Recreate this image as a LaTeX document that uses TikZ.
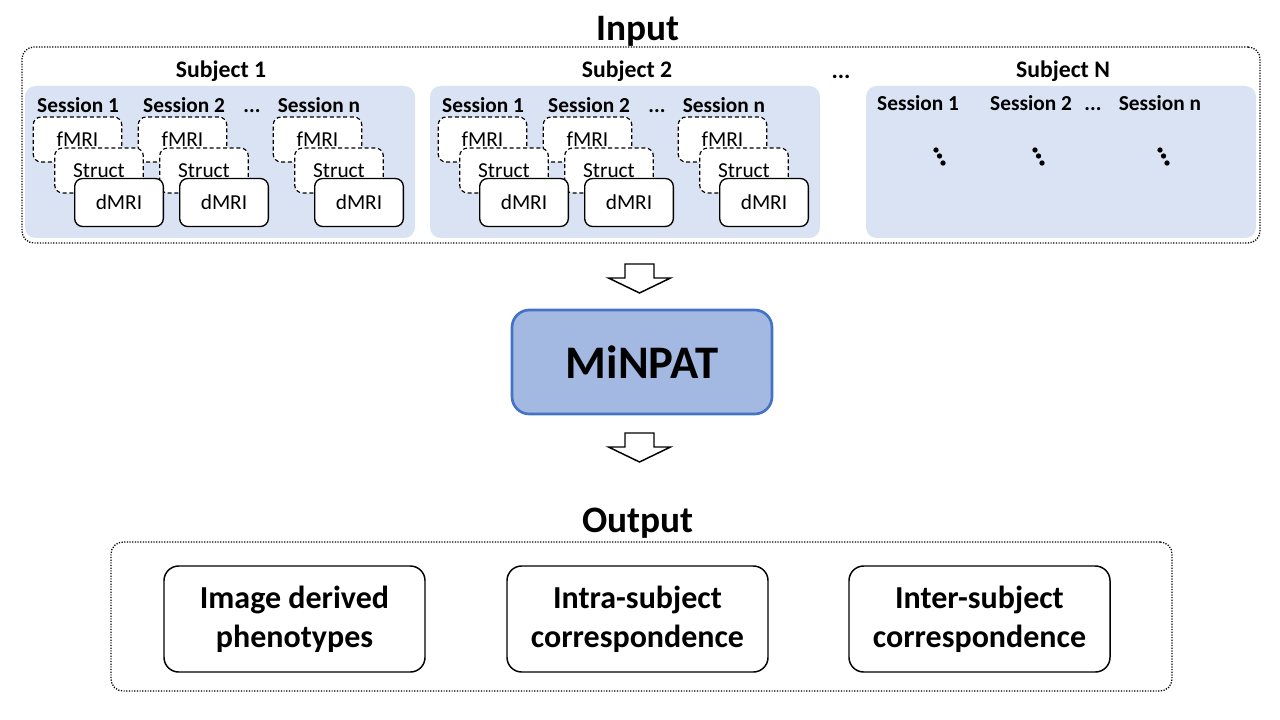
\documentclass[tikz,border=0pt]{standalone}
\usepackage{fontspec}
\setmainfont{Carlito}
\definecolor{panelblue}{HTML}{DAE3F3}
\definecolor{corefill}{HTML}{A3B9E1}
\definecolor{coredraw}{HTML}{4472C4}
\begin{document}
\begin{tikzpicture}[x=0.75pt,y=-0.75pt,
  panel/.style={fill=panelblue, draw=none, rounded corners=8pt, minimum width=292.5pt, minimum height=114pt, inner sep=0pt},
  dotbox/.style={draw, line width=1pt, dash pattern=on 0.9pt off 1.1pt, rounded corners=9pt, inner sep=0pt},
  mri/.style={draw, fill=white, rounded corners=6pt, minimum width=66.5pt, inner sep=0pt, font=\fontsize{16}{19}\selectfont},
  dashmri/.style={mri, minimum height=33.75pt, dash pattern=on 3pt off 2pt, line width=0.9pt},
  solidmri/.style={mri, minimum height=36pt, line width=1pt},
  subjlbl/.style={font=\bfseries\fontsize{17.8}{20}\selectfont, inner sep=0pt},
  seslbl/.style={font=\bfseries\fontsize{16}{19}\selectfont, inner sep=0pt},
  title/.style={font=\bfseries\fontsize{28}{32}\selectfont, inner sep=0pt},
  outbox/.style={draw, line width=1.1pt, rounded corners=11pt, minimum width=195.75pt, minimum height=79.5pt, align=center, font=\bfseries\fontsize{24}{28}\selectfont, inner sep=0pt},
  blockarrow/.style={draw, line width=1.1pt, fill=white, line join=miter},
  edot/.style={circle, fill=black, inner sep=0pt, minimum size=4pt}
]
\useasboundingbox (0,0) rectangle (1280,720);

% Input
\node[title] (intitle) at (638,31) {Input};
\node[dotbox, minimum width=928.5pt, minimum height=147pt] (inbox) at (641,145) {};

% panels
\node[panel] (p1) at (220,162) {};
\node[panel] (p2) at (625,162) {};
\node[panel] (pN) at (1061,162) {};

\node[subjlbl] (sub1) at (221,71) {Subject 1};
\node[subjlbl] (sub2) at (627,71) {Subject 2};
\node[subjlbl] (subN) at (1063,71) {Subject N};
\node[subjlbl] (subdots) at (841,77) {...};

% session labels for subjects 1 and 2
\foreach \sx/\sn in {0/a,405/b}{
  \node[seslbl] (ses1\sn) at ({78+\sx},105) {Session 1};
  \node[seslbl] (ses2\sn) at ({184+\sx},105) {Session 2};
  \node[seslbl] (sesd\sn) at ({252+\sx},111) {...};
  \node[seslbl] (sesn\sn) at ({319+\sx},105) {Session n};
}
% MRI boxes, layered
\foreach \sx/\sn in {0/a,405/b}{
  \foreach \ox/\on in {0/1,105/2,240/n}{
    \node[dashmri] (f\on\sn) at ({77.5+\sx+\ox},139.5) {fMRI};
  }
}
\foreach \sx/\sn in {0/a,405/b}{
  \foreach \ox/\on in {0/1,105/2,240/n}{
    \node[dashmri] (s\on\sn) at ({99+\sx+\ox},170.5) {Struct};
  }
}
\foreach \sx/\sn in {0/a,405/b}{
  \foreach \ox/\on in {0/1,105/2,240/n}{
    \node[solidmri] (d\on\sn) at ({119+\sx+\ox},202.5) {dMRI};
  }
}

% subject N
\node[seslbl] (ses1N) at (918,103) {Session 1};
\node[seslbl] (ses2N) at (1031,103) {Session 2};
\node[seslbl] (sesdN) at (1093,109) {...};
\node[seslbl] (sesnN) at (1160,103) {Session n};
\foreach \dx/\dn in {936/1,1035/2,1160/3}{
  \node[edot] (v\dn a) at (\dx,150) {};
  \node[edot] (v\dn b) at ({\dx+3.5},156) {};
  \node[edot] (v\dn c) at ({\dx+7},163) {};
}

% arrows
\coordinate (a1) at (639.5,264);
\draw[blockarrow] (a1) ++(-14.5,0) -- ++(29,0) -- ++(0,14) -- ++(16.5,0) -- ++(-31,15) -- ++(-31,-15) -- ++(16.5,0) -- cycle;
\node[draw=coredraw, fill=corefill, line width=2pt, rounded corners=13pt, minimum width=195pt, minimum height=78pt, font=\bfseries\fontsize{35}{40}\selectfont] (core) at (642,362) {MiNPAT};
\coordinate (a2) at (639.5,433);
\draw[blockarrow] (a2) ++(-14.5,0) -- ++(29,0) -- ++(0,14) -- ++(16.5,0) -- ++(-31,15) -- ++(-31,-15) -- ++(16.5,0) -- cycle;

% Output
\node[title] (outtitle) at (638,523) {Output};
\node[dotbox, minimum width=795.75pt, minimum height=111.75pt] (outb) at (641.5,616.5) {};
\node[outbox] (o1) at (294.5,619) {Image derived\\[1pt]phenotypes};
\node[outbox] (o2) at (637.5,619) {Intra-subject\\[1pt]correspondence};
\node[outbox] (o3) at (979.5,619) {Inter-subject\\[1pt]correspondence};
\end{tikzpicture}
\end{document}
